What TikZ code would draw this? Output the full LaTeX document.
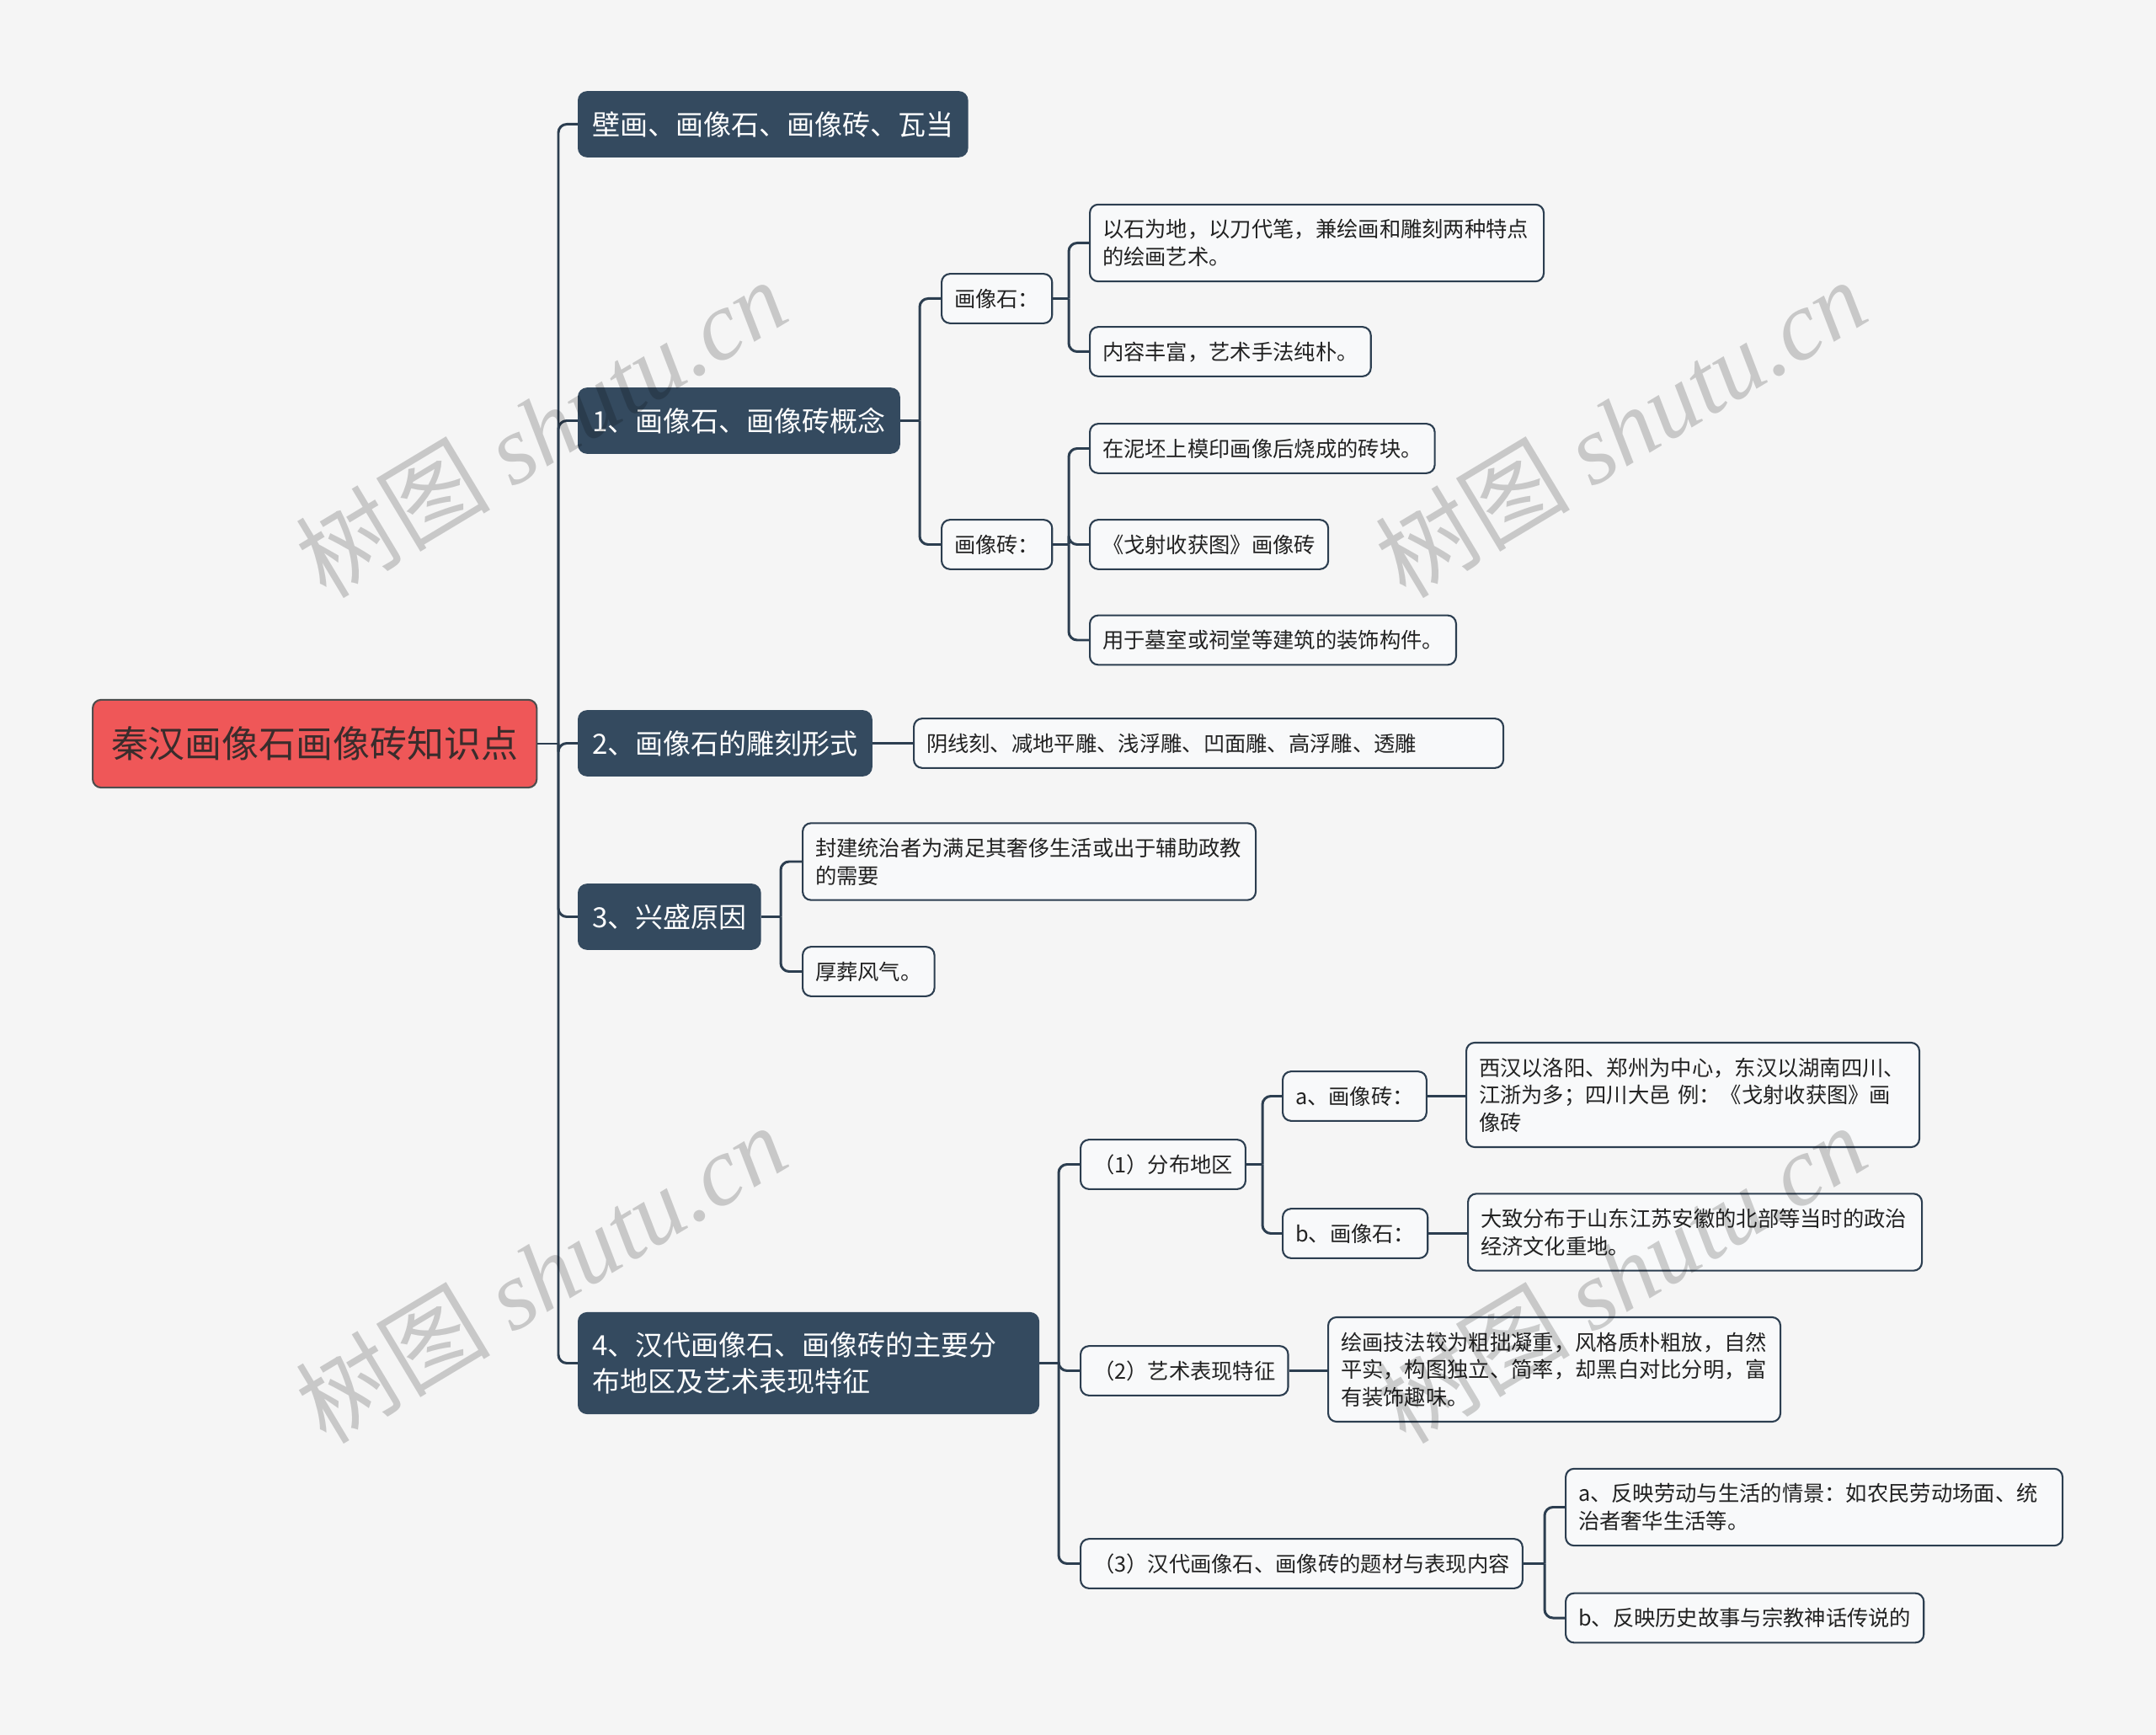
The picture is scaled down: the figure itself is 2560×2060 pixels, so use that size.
\documentclass[tikz,border=0pt]{standalone}
\usepackage{fontspec}
\setmainfont{Noto Sans CJK SC}
\newfontfamily\wmlatin{Liberation Serif}
\usetikzlibrary{positioning}
\definecolor{mpBg}{HTML}{F5F5F5}
\definecolor{mpRed}{HTML}{EF5758}
\definecolor{mpSlate}{HTML}{344A5F}
\definecolor{mpInk}{HTML}{2C3E50}
\definecolor{mpLeaf}{HTML}{F8F9FA}
\definecolor{mpText}{HTML}{222222}
\definecolor{mpRootText}{HTML}{3A2C2C}
\newcommand\mpstrut{\vrule height.8\baselineskip depth.2\baselineskip width0pt}
\tikzset{
  box/.style    ={rounded corners=1mm,line width=0.6pt,anchor=west,align=left,
                  execute at begin node=\mpstrut,execute at end node=\mpstrut},
  topic/.style  ={box,draw=mpText!80,fill=mpRed,text=mpRootText,inner xsep=2.2mm,
                  inner ysep=2.4mm,font=\fontsize{12.5pt}{16pt}\selectfont},
  branch/.style ={box,draw=mpSlate,fill=mpSlate,text=white,inner xsep=1.6mm,
                  inner ysep=1.7mm,font=\fontsize{9.4pt}{12.1pt}\selectfont},
  leaf/.style   ={box,draw=mpInk,fill=mpLeaf,text=mpText,inner xsep=1.5mm,
                  inner ysep=1.3mm,font=\fontsize{7.2pt}{9.3pt}\selectfont},
  link/.style   ={draw=mpInk,line width=0.85pt,rounded corners=1mm},
  wmark/.style  ={text=black,text opacity=0.18,rotate=31,
                  font=\fontsize{33pt}{40pt}\selectfont},
}

\begin{document}
\begin{tikzpicture}[x=0.1mm,y=-0.1mm]
\fill[mpBg] (0,0) rectangle (2560,2060);
\useasboundingbox (0,0) rectangle (2560,2060);

% ── root and first level ───────────────────────────────────────────────────
\node[topic] (root) at (109,883) {秦汉画像石画像砖知识点};
\node[branch] (c0) at (686,147.5)  {壁画、画像石、画像砖、瓦当};
\node[branch] (c1) at (686,499.5)  {1、画像石、画像砖概念};
\node[branch] (c2) at (686,882.5)  {2、画像石的雕刻形式};
\node[branch] (c3) at (686,1088.5) {3、兴盛原因};
\node[branch,text width=51.4mm] (c4) at (686,1618.5) {4、汉代画像石、画像砖的主要分\\布地区及艺术表现特征};

% ── 1: concepts ────────────────────────────────────────────────────────────
\node[leaf] (s1) at (1117,354.5) {画像石：};
\node[leaf] (s2) at (1117,646.5) {画像砖：};
\node[leaf,text width=50.9mm] (l11) at (1293,288.5) {以石为地，以刀代笔，兼绘画和雕刻两种特点\\的绘画艺术。};
\node[leaf] (l12) at (1293,417.5) {内容丰富，艺术手法纯朴。};
\node[leaf] (l21) at (1293,532.5) {在泥坯上模印画像后烧成的砖块。};
\node[leaf] (l22) at (1293,646.5) {《戈射收获图》画像砖};
\node[leaf] (l23) at (1293,760)   {用于墓室或祠堂等建筑的装饰构件。};

% ── 2 and 3 ────────────────────────────────────────────────────────────────
\node[leaf,text width=67mm] (l3) at (1084,882.5) {阴线刻、减地平雕、浅浮雕、凹面雕、高浮雕、透雕};
\node[leaf,text width=50.8mm] (l41) at (952,1023) {封建统治者为满足其奢侈生活或出于辅助政教\\的需要};
\node[leaf] (l42) at (952,1153.5) {厚葬风气。};

% ── 4: regions and features ────────────────────────────────────────────────
\node[leaf] (p1) at (1282,1382.5) {（1）分布地区};
\node[leaf] (p2) at (1282,1627.5) {（2）艺术表现特征};
\node[leaf] (p3) at (1282,1856.5) {（3）汉代画像石、画像砖的题材与表现内容};
\node[leaf] (pa) at (1522,1301.5) {a、画像砖：};
\node[leaf] (pb) at (1522,1464.5) {b、画像石：};
\node[leaf,text width=50.8mm] (pal) at (1740,1300) {西汉以洛阳、郑州为中心，东汉以湖南四川、\\江浙为多；四川大邑 例：《戈射收获图》画\\像砖};
\node[leaf,text width=50.9mm] (pbl) at (1742,1463) {大致分布于山东江苏安徽的北部等当时的政治\\经济文化重地。};
\node[leaf,text width=50.7mm] (p2l) at (1576,1626) {绘画技法较为粗拙凝重，风格质朴粗放，自然\\平实，构图独立、简率，却黑白对比分明，富\\有装饰趣味。};
\node[leaf,text width=56mm] (p3a) at (1858,1789.5) {a、反映劳动与生活的情景：如农民劳动场面、统\\治者奢华生活等。};
\node[leaf] (p3b) at (1858,1921)   {b、反映历史故事与宗教神话传说的};

% ── connectors ─────────────────────────────────────────────────────────────
\coordinate (tr) at (663,0);
\coordinate (b1) at (1092,0);
\coordinate (b2) at (1269,0);
\coordinate (b3) at (927,0);
\coordinate (b4) at (1257,0);
\coordinate (b5) at (1499,0);
\coordinate (b6) at (1834,0);
\draw[link] (root.east) -- (root.east -| tr);
\foreach \c in {c0,c1,c2,c3,c4}
  \draw[link] (root.east -| tr) |- (\c.west);
\foreach \p/\bus/\kids in {c1/b1/{s1,s2},s1/b2/{l11,l12},s2/b2/{l21,l22,l23},
                           c3/b3/{l41,l42},c4/b4/{p1,p2,p3},p1/b5/{pa,pb},p3/b6/{p3a,p3b}}{
  \draw[link] (\p.east) -- (\p.east -| \bus);
  \foreach \k in \kids
    \draw[link] (\p.east -| \bus) |- (\k.west);
}
\foreach \p/\k in {c2/l3,pa/pal,pb/pbl,p2/p2l}
  \draw[link] (\p.east) -- (\p.east -| \k.west);

% ── watermark ──────────────────────────────────────────────────────────────
\node[wmark] (wm1) at (642,508)   {树图 {\wmlatin\itshape shutu.cn}};
\node[wmark] (wm2) at (1924,508)  {树图 {\wmlatin\itshape shutu.cn}};
\node[wmark] (wm3) at (642,1512)  {树图 {\wmlatin\itshape shutu.cn}};
\node[wmark] (wm4) at (1924,1512) {树图 {\wmlatin\itshape shutu.cn}};
\end{tikzpicture}
\end{document}
